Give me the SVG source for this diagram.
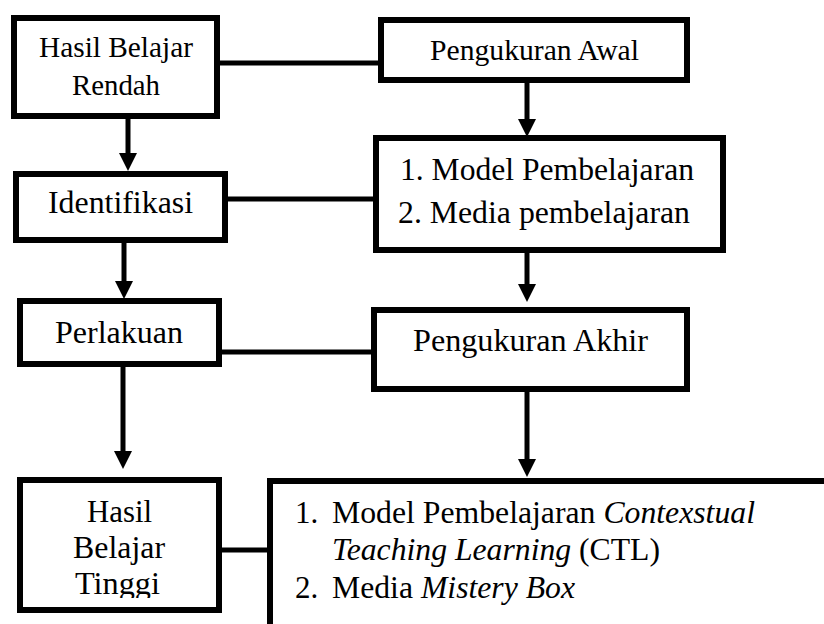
<svg xmlns="http://www.w3.org/2000/svg" width="824" height="624" viewBox="0 0 824 624">
<style>
.box{fill:#fff;stroke:#000;stroke-width:6}
.ln{fill:none;stroke:#000;stroke-width:5}
text{font-family:"Liberation Serif","Times New Roman",serif;font-size:31px;fill:#000}
.s{font-size:30px}
.i{font-style:italic}
</style>
<defs>
<marker id="ah" markerUnits="userSpaceOnUse" viewBox="0 0 18 18" refX="0" refY="9" markerWidth="18" markerHeight="18" orient="auto">
<path d="M0,0 L18,9 L0,18 z" fill="#000"/>
</marker>
<clipPath id="clipT"><rect x="20" y="480" width="199" height="118"/></clipPath>
</defs>
<rect width="824" height="624" fill="#fff"/>
<g id="connectors">
<line class="ln" x1="220" y1="63" x2="378" y2="63"/>
<line class="ln" x1="228" y1="199" x2="373" y2="199"/>
<line class="ln" x1="213" y1="352" x2="371" y2="352"/>
<line class="ln" x1="222" y1="550" x2="267" y2="550"/>
<line class="ln" x1="128" y1="119" x2="128" y2="153" marker-end="url(#ah)"/>
<line class="ln" x1="124" y1="243" x2="124" y2="281" marker-end="url(#ah)"/>
<line class="ln" x1="123" y1="367" x2="123" y2="451" marker-end="url(#ah)"/>
<line class="ln" x1="527" y1="83" x2="527" y2="119" marker-end="url(#ah)"/>
<line class="ln" x1="527" y1="253" x2="527" y2="284" marker-end="url(#ah)"/>
<line class="ln" x1="527" y1="392" x2="527" y2="459" marker-end="url(#ah)"/>
</g>
<g id="hasil-rendah">
<rect class="box" x="14" y="18" width="203" height="98"/>
<text class="s" x="39" y="57" textLength="154" lengthAdjust="spacingAndGlyphs">Hasil Belajar</text>
<text class="s" x="72" y="95" textLength="88" lengthAdjust="spacingAndGlyphs">Rendah</text>
</g>
<g id="pengukuran-awal">
<rect class="box" x="381" y="20" width="306" height="60"/>
<text class="s" x="430" y="60" textLength="209" lengthAdjust="spacingAndGlyphs">Pengukuran Awal</text>
</g>
<g id="identifikasi">
<rect class="box" x="16" y="174" width="209" height="66"/>
<text x="48" y="213" textLength="145" lengthAdjust="spacingAndGlyphs">Identifikasi</text>
</g>
<g id="model-media">
<rect class="box" x="376" y="138" width="347" height="112"/>
<text x="400" y="180" textLength="294" lengthAdjust="spacingAndGlyphs">1. Model Pembelajaran</text>
<text x="398" y="223" textLength="292" lengthAdjust="spacingAndGlyphs">2. Media pembelajaran</text>
</g>
<g id="perlakuan">
<rect class="box" x="20" y="301" width="199" height="63"/>
<text x="55" y="343" textLength="128" lengthAdjust="spacingAndGlyphs">Perlakuan</text>
</g>
<g id="pengukuran-akhir">
<rect class="box" x="374" y="310" width="313" height="79"/>
<text x="413" y="351" textLength="235" lengthAdjust="spacingAndGlyphs">Pengukuran Akhir</text>
</g>
<g id="hasil-tinggi">
<rect class="box" x="20" y="480" width="199" height="130"/>
<g clip-path="url(#clipT)">
<text x="87" y="522" textLength="65" lengthAdjust="spacingAndGlyphs">Hasil</text>
<text x="73" y="558" textLength="92" lengthAdjust="spacingAndGlyphs">Belajar</text>
<text x="75" y="594" textLength="85" lengthAdjust="spacingAndGlyphs">Tinggi</text>
</g>
</g>
<g id="ctl">
<rect class="box" x="270" y="481" width="600" height="200"/>
<text x="295" y="523">1.</text>
<text x="332" y="523" textLength="423" lengthAdjust="spacingAndGlyphs">Model Pembelajaran <tspan class="i">Contexstual</tspan></text>
<text x="332" y="560" textLength="328" lengthAdjust="spacingAndGlyphs"><tspan class="i">Teaching Learning</tspan> (CTL)</text>
<text x="295" y="598">2.</text>
<text x="332" y="598" textLength="243" lengthAdjust="spacingAndGlyphs">Media <tspan class="i">Mistery Box</tspan></text>
</g>
</svg>
